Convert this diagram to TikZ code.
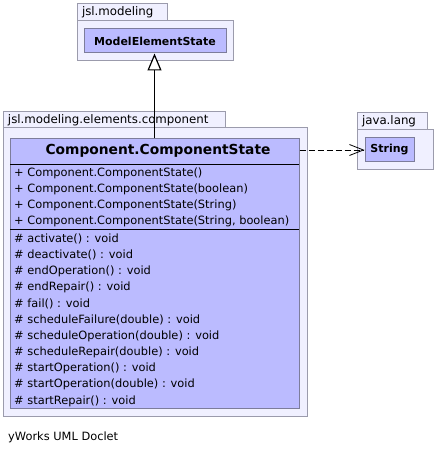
\documentclass[tikz,border=0pt]{standalone}
\usepackage{fontspec}
\setmainfont{DejaVu Sans}
\usetikzlibrary{arrows.meta}

\definecolor{pkgfill}{RGB}{240,240,255}
\definecolor{pkgline}{RGB}{155,155,172}
\definecolor{clsfill}{RGB}{187,187,255}
\definecolor{clsline}{RGB}{125,125,155}

\begin{document}
\begin{tikzpicture}
[x=1pt, y=-1pt, every node/.style={inner sep=0pt, font=\fontsize{11.4}{13}\selectfont},
 pkgtab/.style={rectangle, fill=pkgfill, draw=pkgline, line width=1pt, minimum height=17pt, inner xsep=5pt, align=left, font=\fontsize{11.8}{13}\selectfont},
 pkgbody/.style={rectangle, fill=pkgfill, draw=pkgline, line width=1pt},
 cls/.style={rectangle, fill=clsfill, draw=clsline, line width=1pt},
 member/.style={anchor=west},
 sep/.style={line width=1pt, color=black}]
\useasboundingbox (0,0) rectangle (435,454);
% package jsl.modeling
\node (modtab) [pkgtab, text width=80pt] at (122, 12) {jsl.modeling};
\node (modpkg) [pkgbody, minimum width=156pt, minimum height=40pt] at (155, 41) {};
\node (mes) [cls, minimum width=142pt, minimum height=24pt, font=\fontsize{11}{13}\selectfont\bfseries] at (155, 41) {ModelElementState};
% package java.lang
\node (langtab) [pkgtab, text width=60pt] at (392, 121) {java.lang};
\node (langpkg) [pkgbody, minimum width=76pt, minimum height=40pt] at (395, 150) {};
\node (str) [cls, minimum width=49pt, minimum height=24pt, font=\fontsize{11}{13}\selectfont\bfseries] at (389.5, 150) {String};
% package jsl.modeling.elements.component
\node (comptab) [pkgtab, text width=212pt] at (114, 120) {jsl.modeling.elements.component};
\node (comppkg) [pkgbody, minimum width=304pt, minimum height=288pt] at (155, 272) {};
\node (cs) [cls, minimum width=289pt, minimum height=269pt] at (154.5, 273.5) {};
\node (cstitle) [font=\fontsize{13.8}{16}\selectfont\bfseries] at (158, 151) {Component.ComponentState};
\draw [sep] (10, 165) -- (299, 165);
\draw [sep] (10, 229.5) -- (299, 229.5);
\node (c1) [member] at (14, 173) {+ Component.ComponentState()};
\node (c2) [member] at (14, 189) {+ Component.ComponentState(boolean)};
\node (c3) [member] at (14, 205) {+ Component.ComponentState(String)};
\node (c4) [member] at (14, 221) {+ Component.ComponentState(String, boolean)};
\node (m1) [member] at (14, 239) {\# activate() : void};
\node (m2) [member] at (14, 255.2) {\# deactivate() : void};
\node (m3) [member] at (14, 271.4) {\# endOperation() : void};
\node (m4) [member] at (14, 287.6) {\# endRepair() : void};
\node (m5) [member] at (14, 303.8) {\# fail() : void};
\node (m6) [member] at (14, 320) {\# scheduleFailure(double) : void};
\node (m7) [member] at (14, 336.2) {\# scheduleOperation(double) : void};
\node (m8) [member] at (14, 352.4) {\# scheduleRepair(double) : void};
\node (m9) [member] at (14, 368.6) {\# startOperation() : void};
\node (m10) [member] at (14, 384.8) {\# startOperation(double) : void};
\node (m11) [member] at (14, 401) {\# startRepair() : void};
% connectors
\draw [line width=1.2pt, -{Triangle[open, length=17pt, width=14pt, fill=white]}] (cs.north) to (cs.north |- mes.south);
\draw [line width=0.8pt, dash pattern=on 6pt off 3pt, -{Straight Barb[length=14pt, width=11pt]}] (str.west -| cs.east) to (str.west);
% footer
\node (footer) [anchor=west] at (8, 437) {yWorks UML Doclet};
\end{tikzpicture}
\end{document}
